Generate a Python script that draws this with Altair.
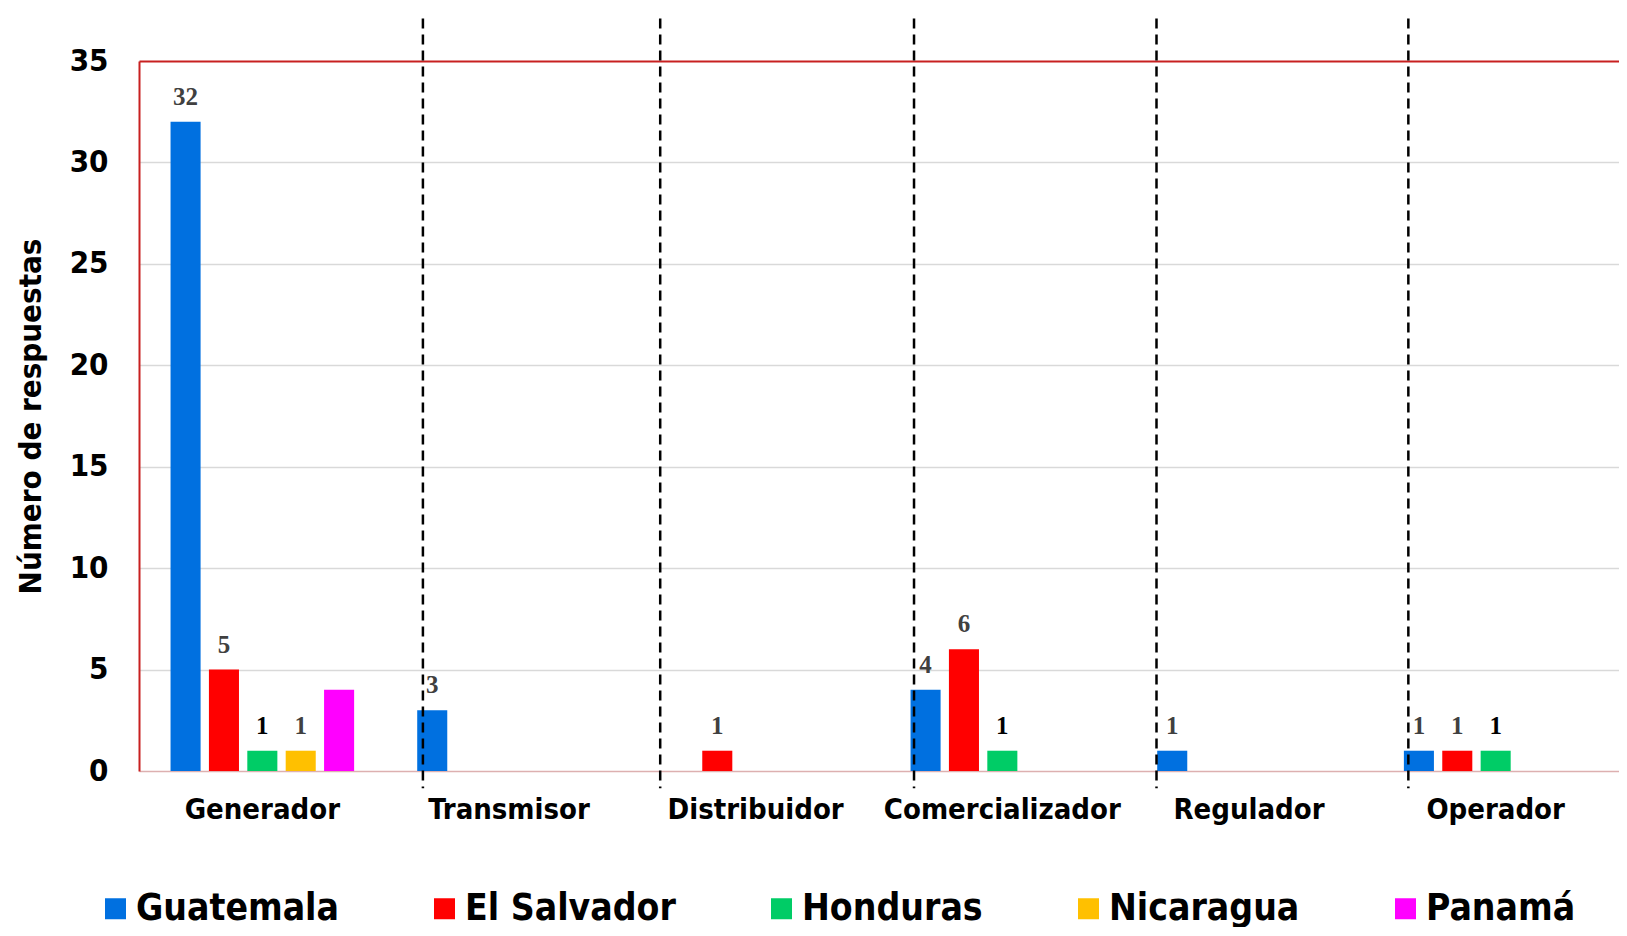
import altair as alt
import pandas as pd

categories = ["Generador", "Transmisor", "Distribuidor", "Comercializador", "Regulador", "Operador"]
countries = ["Guatemala", "El Salvador", "Honduras", "Nicaragua", "Panamá"]
colors = ["#0070E0", "#FF0000", "#00CC66", "#FFC000", "#FF00FF"]

guatemala = [32, 3, 0, 4, 1, 1]
el_salvador = [5, 0, 1, 6, 0, 1]
honduras = [1, 0, 0, 1, 0, 1]
nicaragua = [1, 0, 0, 0, 0, 0]
panama = [4, 0, 0, 0, 0, 0]
series = [guatemala, el_salvador, honduras, nicaragua, panama]

# positions of the dashed separators, in category units along the axis
divider_pos = [1.151, 2.113, 3.142, 4.125, 5.146]
divider_top = 37.1
divider_bottom = -0.85

rows = []
for i, cat in enumerate(categories):
    for country, vals in zip(countries, series):
        rows.append({"cat": cat, "country": country, "value": vals[i]})
df = pd.DataFrame(rows)
div_df = pd.DataFrame({"pos": divider_pos, "top": [divider_top] * len(divider_pos),
                       "bot": [divider_bottom] * len(divider_pos)})

SANS = "DejaVu Sans Condensed, DejaVu Sans"

x_enc = alt.X("cat:N", sort=categories,
              scale=alt.Scale(domain=categories, paddingInner=0.222, paddingOuter=0.111),
              axis=alt.Axis(title=None, labelAngle=0, labelFont=SANS, labelFontWeight="bold",
                            labelFontSize=29, labelColor="black", labelPadding=24,
                            labelLimit=0, ticks=False, domain=False))
xoff_enc = alt.XOffset("country:N", sort=countries,
                       scale=alt.Scale(domain=countries, paddingInner=0.217, paddingOuter=0.1085))
y_enc = alt.Y("value:Q",
              scale=alt.Scale(domain=[0, 35], nice=False),
              axis=alt.Axis(title="Número de respuestas", values=[0, 5, 10, 15, 20, 25, 30, 35],
                            labelFont=SANS, labelFontWeight="bold", labelFontSize=31,
                            labelColor="black", labelPadding=31, ticks=False,
                            titleFont=SANS, titleFontWeight="bold", titleFontSize=31,
                            titleColor="black", titlePadding=22,
                            domainColor="#C82020", domainWidth=2,
                            gridColor={"condition": [{"test": "datum.value == 35", "value": "#C82020"},
                                                     {"test": "datum.value == 0", "value": "#DDB0B0"}],
                                       "value": "#D9D9D9"},
                            gridWidth={"condition": {"test": "datum.value == 35", "value": 2},
                                       "value": 1.5}))

bars = alt.Chart(df).transform_filter("datum.value > 0").mark_bar().encode(
    x=x_enc,
    xOffset=xoff_enc,
    y=y_enc,
    color=alt.Color("country:N", sort=countries,
                    scale=alt.Scale(domain=countries, range=colors),
                    legend=alt.Legend(title=None, orient="none", legendX=-42, legendY=829,
                                      direction="horizontal", symbolType="square",
                                      symbolSize=441, symbolStrokeWidth=0,
                                      labelFont=SANS, labelFontWeight="bold",
                                      labelFontSize=37, labelColor="black", labelLimit=0,
                                      columnPadding=87, labelOffset=2, padding=0)),
)

labels = alt.Chart(df).transform_filter(
    "datum.value > 0 && datum.country != 'Panamá'"
).mark_text(font="Liberation Serif", fontWeight="bold", fontSize=25,
            baseline="alphabetic", dy=-17).encode(
    x=alt.X("cat:N", sort=categories),
    xOffset=alt.XOffset("country:N", sort=countries),
    y=alt.Y("value:Q"),
    text=alt.Text("value:Q"),
    color=alt.condition("datum.country == 'Honduras'", alt.value("#000000"), alt.value("#404040")),
)

dividers = alt.Chart(div_df).mark_rule(color="black", strokeWidth=2.5, strokeDash=[10, 6]).encode(
    x=alt.X("pos:Q", scale=alt.Scale(domain=[0, 6], nice=False, zero=False), axis=None),
    y=alt.Y("top:Q"),
    y2=alt.Y2("bot"),
)

chart = alt.layer(alt.layer(bars, labels), dividers).resolve_scale(x="independent").properties(
    width=1480, height=710,
    padding={"left": 7, "top": 9, "right": 0, "bottom": 0},
).configure_view(stroke=None)

chart.save("out.html", embed_options={"renderer": "svg", "actions": False})
